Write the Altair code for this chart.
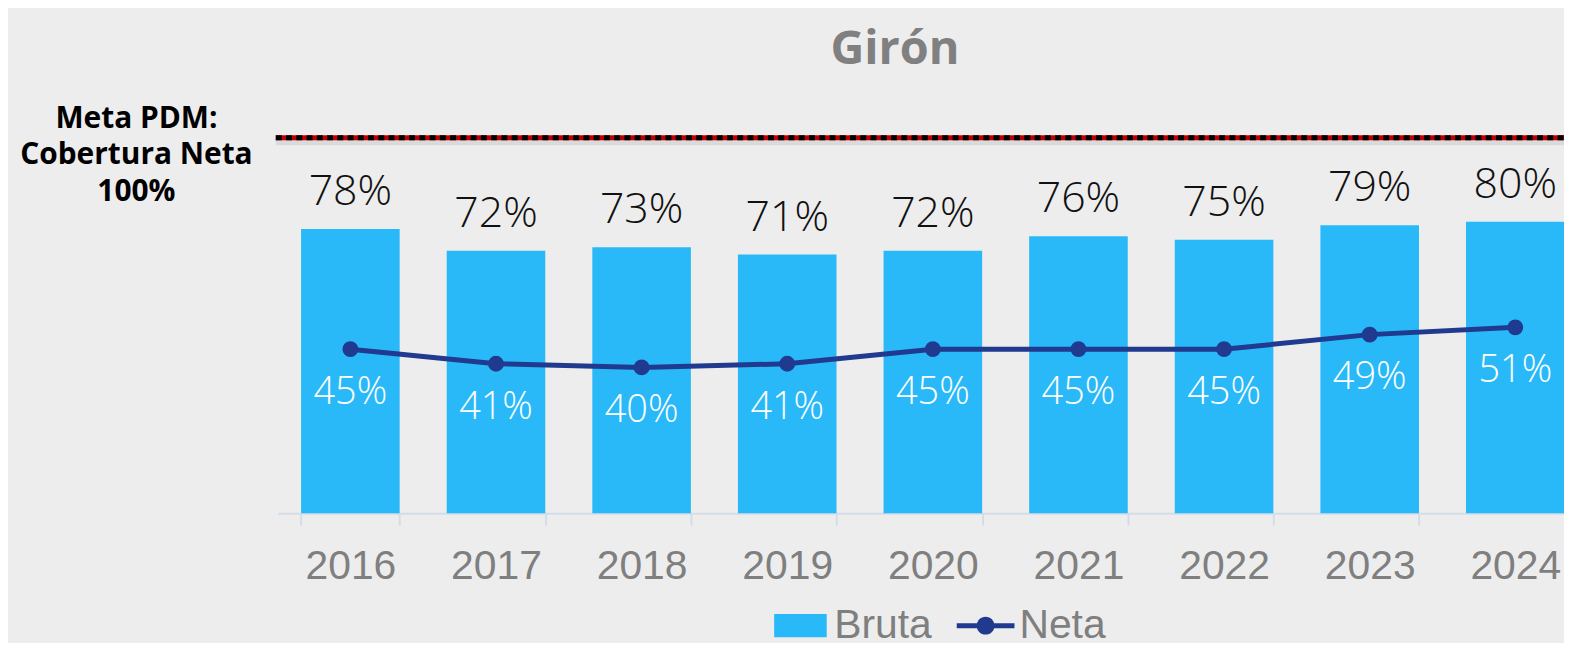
import altair as alt
import pandas as pd

# ---- data ----
years = ["2016", "2017", "2018", "2019", "2020", "2021", "2022", "2023", "2024"]
bruta = [78, 72, 73, 71, 72, 76, 75, 79, 80]
neta = [45, 41, 40, 41, 45, 45, 45, 49, 51]
series = ["Bruta", "Neta"]
meta_text = ["Meta PDM:", "Cobertura Neta", "100%"]
title_text = "Girón"

bar_color = "#29B9F8"
line_color = "#1F3A8F"
grey = "#7f7f7f"

df = pd.DataFrame({
    "year": years,
    "bruta": bruta,
    "neta": neta,
    "bruta_lbl": [f"{v}%" for v in bruta],
    "neta_lbl": [f"{v}%" for v in neta],
})

W = 1292
H = 377

xscale = alt.Scale(domain=years, paddingInner=0.323, paddingOuter=0.16, range=[0, 1316])
yscale = alt.Scale(domain=[0, 103], nice=False, zero=True)

x_axis = alt.Axis(
    title=None, labelAngle=0, labelFont="Liberation Sans", labelFontSize=41,
    labelColor=grey, labelPadding=22, tickBand="extent", tickSize=12,
    tickColor="#d3dde8", tickWidth=2, domainColor="#d3dde8", domainWidth=2,
    grid=False,
)

X = alt.X("year:N", scale=xscale, sort=years, axis=x_axis)
Xn = alt.X("year:N", scale=xscale, sort=years)

base = alt.Chart(df)

bars = base.mark_bar(color=bar_color).encode(
    x=X, y=alt.Y("bruta:Q", scale=yscale, axis=None)
)

bar_labels = base.mark_text(
    font="Open Sans", fontSize=43, fontWeight=300, color="#111111",
    baseline="middle", dy=-37,
).encode(x=Xn, y=alt.Y("bruta:Q", scale=yscale), text="bruta_lbl:N")

line = base.mark_line(color=line_color, strokeWidth=5).encode(
    x=Xn, y=alt.Y("neta:Q", scale=yscale)
)
points = base.mark_point(filled=True, size=254, color=line_color, opacity=1).encode(
    x=Xn, y=alt.Y("neta:Q", scale=yscale)
)
neta_labels = base.mark_text(
    font="Open Sans", fontSize=38, fontWeight=300, color="white",
    baseline="middle", dy=44,
).encode(x=Xn, y=alt.Y("neta:Q", scale=yscale), text="neta_lbl:N")

meta_data = alt.Data(values=[{"label": meta_text}])
rule_shadow = alt.Chart(meta_data).mark_rule(color="#000000", opacity=0.08, strokeWidth=7).encode(
    y=alt.value(4), x=alt.value(-2), x2=alt.value(1320)
)
rule_red = alt.Chart(meta_data).mark_rule(color="#C00000", strokeWidth=5).encode(
    y=alt.value(0), x=alt.value(-2), x2=alt.value(1320)
)
rule_black = alt.Chart(meta_data).mark_rule(color="#000000", strokeWidth=5, strokeDash=[6, 4.3]).encode(
    y=alt.value(0), x=alt.value(-2), x2=alt.value(1320)
)
meta_label = alt.Chart(meta_data).mark_text(
    font="Open Sans", fontSize=30, fontWeight="bold", color="#000000",
    align="center", baseline="middle", lineHeight=36.5,
).encode(x=alt.value(-142), y=alt.value(-19), text="label:N")

path_bruta = "M-0.91,-0.4H0.91V0.4H-0.91Z"
path_neta = ("M-1,-0.086H1V0.086H-1Z "
             "M0.31,0A0.31,0.31 0 1 1 -0.31,0A0.31,0.31 0 1 1 0.31,0Z")

legend = alt.Legend(
    title=None, orient="none", direction="horizontal", legendX=496, legendY=461,
    labelFont="Liberation Sans", labelFontSize=41, labelColor=grey,
    symbolSize=3364, symbolOpacity=1, symbolStrokeWidth=0, labelOffset=5,
    columnPadding=25, padding=0,
)
legend_data = alt.Data(values=[{"serie": s} for s in series])
legend_layer = alt.Chart(legend_data).mark_point(filled=True, opacity=0).encode(
    color=alt.Color("serie:N", scale=alt.Scale(domain=series, range=[bar_color, line_color]), legend=legend),
    shape=alt.Shape("serie:N", scale=alt.Scale(domain=series, range=[path_bruta, path_neta]), legend=legend),
)

chart = alt.layer(
    bars, rule_shadow, rule_red, rule_black, line, points, bar_labels, neta_labels,
    meta_label, legend_layer,
).properties(
    width=W, height=H,
    autosize=alt.AutoSizeParams(type="none"),
    padding={"left": 271, "top": 129, "right": 0, "bottom": 129},
    background="#ededed",
    title=alt.TitleParams(
        title_text, font="Open Sans", fontSize=47, fontWeight="bold", color="#808080",
        anchor="middle", offset=30, dx=-26,
    ),
).configure_view(stroke=None)

chart.save("out.html", embed_options={"renderer": "svg", "actions": False})
